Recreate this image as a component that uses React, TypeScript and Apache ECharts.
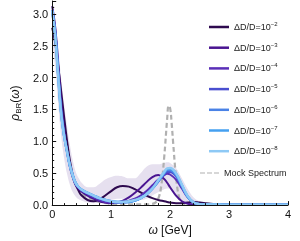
import React, { useEffect, useRef } from "react";
import * as echarts from "echarts";

const xs = [0, 0.05, 0.1, 0.15, 0.2, 0.25, 0.3, 0.35, 0.4, 0.45, 0.5, 0.6, 0.7, 0.8, 0.9, 1.0, 1.1, 1.2, 1.3, 1.4, 1.5, 1.6, 1.7, 1.8, 1.9, 1.95, 2.0, 2.1, 2.2, 2.3, 2.4, 2.5, 2.6, 2.8, 3.0, 3.5, 4.0];

const rho2 = [2.78, 2.55, 2.2, 1.8, 1.4, 1.02, 0.7, 0.47, 0.32, 0.22, 0.15, 0.08, 0.06, 0.09, 0.15, 0.22, 0.28, 0.3, 0.29, 0.25, 0.2, 0.15, 0.11, 0.08, 0.06, 0.05, 0.04, 0.03, 0.03, 0.04, 0.05, 0.04, 0.03, 0.015, 0.01, 0.006, 0.005];
const rho3 = [3.12, 2.8, 2.25, 1.65, 1.2, 0.86, 0.6, 0.43, 0.31, 0.25, 0.21, 0.15, 0.1, 0.06, 0.04, 0.03, 0.04, 0.07, 0.12, 0.19, 0.27, 0.36, 0.44, 0.47, 0.41, 0.35, 0.28, 0.15, 0.06, 0.02, 0.01, 0.01, 0.008, 0.006, 0.005, 0.005, 0.005];
const rho4 = [3.05, 2.75, 2.15, 1.55, 1.15, 0.85, 0.62, 0.45, 0.33, 0.27, 0.23, 0.17, 0.12, 0.08, 0.05, 0.04, 0.04, 0.05, 0.07, 0.1, 0.15, 0.22, 0.31, 0.4, 0.47, 0.49, 0.48, 0.4, 0.26, 0.12, 0.04, 0.015, 0.01, 0.008, 0.006, 0.005, 0.005];
const rho5 = [3.05, 2.72, 2.1, 1.5, 1.12, 0.85, 0.62, 0.46, 0.34, 0.28, 0.24, 0.18, 0.14, 0.1, 0.07, 0.05, 0.04, 0.04, 0.05, 0.07, 0.11, 0.17, 0.26, 0.37, 0.48, 0.52, 0.52, 0.45, 0.29, 0.13, 0.04, 0.015, 0.01, 0.008, 0.006, 0.005, 0.005];
const rho6 = [3.05, 2.7, 2.08, 1.48, 1.1, 0.85, 0.62, 0.46, 0.34, 0.28, 0.24, 0.19, 0.15, 0.11, 0.08, 0.06, 0.05, 0.05, 0.05, 0.07, 0.11, 0.17, 0.26, 0.38, 0.5, 0.55, 0.55, 0.47, 0.3, 0.13, 0.04, 0.015, 0.01, 0.008, 0.006, 0.005, 0.005];
const rho7 = [3.05, 2.68, 2.06, 1.46, 1.1, 0.85, 0.62, 0.46, 0.34, 0.28, 0.24, 0.19, 0.15, 0.11, 0.08, 0.06, 0.05, 0.05, 0.05, 0.07, 0.11, 0.17, 0.26, 0.38, 0.51, 0.565, 0.57, 0.49, 0.31, 0.13, 0.04, 0.015, 0.01, 0.008, 0.006, 0.005, 0.005];
const rho8 = [3.05, 2.65, 2.05, 1.45, 1.1, 0.85, 0.62, 0.46, 0.34, 0.28, 0.24, 0.19, 0.15, 0.11, 0.08, 0.06, 0.05, 0.05, 0.06, 0.08, 0.11, 0.17, 0.26, 0.39, 0.52, 0.575, 0.58, 0.5, 0.32, 0.14, 0.04, 0.015, 0.01, 0.008, 0.006, 0.005, 0.005];

const bandLow = [2.55, 2.2, 1.6, 1.1, 0.75, 0.5, 0.32, 0.2, 0.13, 0.09, 0.07, 0.04, 0.03, 0.04, 0.06, 0.08, 0.1, 0.1, 0.09, 0.08, 0.08, 0.1, 0.15, 0.2, 0.25, 0.26, 0.25, 0.15, 0.06, 0.02, 0, 0, 0, 0, 0, 0, 0];
const bandHigh = [3.15, 2.9, 2.5, 2.0, 1.6, 1.25, 0.95, 0.7, 0.52, 0.42, 0.35, 0.28, 0.28, 0.33, 0.4, 0.44, 0.46, 0.45, 0.42, 0.42, 0.5, 0.6, 0.64, 0.64, 0.66, 0.67, 0.66, 0.58, 0.42, 0.25, 0.12, 0.06, 0.04, 0.02, 0.015, 0.01, 0.01];

const mockX = [0, 0.05, 0.1, 0.15, 0.2, 0.25, 0.3, 0.35, 0.4, 0.5, 0.6, 0.8, 1.0, 1.3, 1.6, 1.7, 1.75, 1.8, 1.85, 1.9, 1.95, 1.975, 2.0, 2.025, 2.05, 2.1, 2.15, 2.2, 2.25, 2.3, 2.5, 3.0, 4.0];
const mockY = [3.0, 2.68, 2.06, 1.46, 1.1, 0.85, 0.62, 0.46, 0.34, 0.2, 0.12, 0.05, 0.025, 0.012, 0.012, 0.02, 0.04, 0.1, 0.3, 0.75, 1.35, 1.56, 1.52, 1.3, 1.0, 0.45, 0.13, 0.035, 0.012, 0.008, 0.005, 0.005, 0.005];

const exponents = ["−2", "−3", "−4", "−5", "−6", "−7", "−8"];
const seriesNames = exponents.map((e) => "ΔD/D=10" + e);
const seriesValues = [rho2, rho3, rho4, rho5, rho6, rho7, rho8];
const colors = ["#2e0a4f", "#4a1591", "#5a2fb8", "#4a4fd0", "#4a82e6", "#45a0f0", "#8ec9f5"];
const widths = [2, 2, 2, 2, 2.5, 2.5, 2.5];
const mockName = "Mock Spectrum";

const FONT = "'Liberation Sans', Arial, sans-serif";

export default function App() {
  const ref = useRef<HTMLDivElement>(null);
  useEffect(() => {
    if (!ref.current) return;
    const chart = echarts.init(ref.current, undefined, { renderer: "svg" });
    const pairs = (x: number[], y: number[]) => x.map((v, i) => [v, y[i]]);
    const series: any[] = [
      {
        name: "bandHigh",
        type: "line",
        data: pairs(xs, bandHigh),
        symbol: "none",
        smooth: 0.4,
        lineStyle: { opacity: 0 },
        areaStyle: { color: "#e6e0ef", opacity: 1 },
        silent: true,
        z: 1,
      },
      {
        name: "bandLow",
        type: "line",
        data: pairs(xs, bandLow),
        symbol: "none",
        smooth: 0.4,
        lineStyle: { opacity: 0 },
        areaStyle: { color: "#ffffff", opacity: 1 },
        silent: true,
        z: 1,
      },
      {
        name: mockName,
        type: "line",
        data: pairs(mockX, mockY),
        symbol: "none",
        smooth: 0.4,
        lineStyle: { color: "#b0b0b0", width: 2.2, type: [5, 3] },
        itemStyle: { color: "#b0b0b0" },
        z: 2,
      },
      ...seriesNames.map((n, k) => ({
        name: n,
        type: "line",
        data: pairs(xs, seriesValues[k]),
        symbol: "none",
        smooth: 0.4,
        lineStyle: { color: colors[k], width: widths[k] },
        itemStyle: { color: colors[k] },
        z: 3 + k,
      })),
    ];
    chart.setOption({
      animation: false,
      textStyle: { fontFamily: FONT },
      grid: { left: 43, right: 12, top: 1, bottom: 31, containLabel: false },
      legend: [
        {
          data: seriesNames,
          orient: "vertical",
          left: 204,
          top: 16,
          itemWidth: 20,
          itemHeight: 2.5,
          itemGap: 8.7,
          icon: "rect",
          formatter: (name: string) => {
            const i = seriesNames.indexOf(name);
            return "ΔD/D=10{sup|" + exponents[i] + "}";
          },
          textStyle: {
            fontSize: 9,
            color: "#222",
            fontFamily: FONT,
            lineHeight: 12,
            rich: { sup: { fontSize: 6, lineHeight: 6, verticalAlign: "top", fontFamily: FONT, color: "#222" } },
          },
          selectedMode: false,
        },
        {
          data: [mockName],
          orient: "vertical",
          left: 195,
          top: 162,
          itemWidth: 19,
          itemHeight: 2.5,
          itemGap: 6,
          icon: "path://M0,0h5v1h-5z M7,0h5v1h-5z M14,0h5v1h-5z",
          textStyle: { fontSize: 9, color: "#222", fontFamily: FONT, lineHeight: 12 },
          selectedMode: false,
        },
      ],
      xAxis: {
        type: "value",
        min: 0,
        max: 4,
        interval: 1,
        z: 10,
        name: "{i|ω} [GeV]",
        nameLocation: "middle",
        nameGap: 17,
        nameTextStyle: {
          fontSize: 12,
          color: "#111",
          fontFamily: FONT,
          rich: { i: { fontStyle: "italic", fontSize: 12, fontFamily: FONT, color: "#111" } },
        },
        axisLine: { lineStyle: { color: "#111", width: 1 } },
        axisTick: { inside: true, length: 4, lineStyle: { color: "#111" } },
        minorTick: { show: true, splitNumber: 5, length: 2, lineStyle: { color: "#111" } },
        axisLabel: { fontSize: 11, color: "#111", margin: 3, fontFamily: FONT },
        splitLine: { show: false },
      },
      yAxis: {
        type: "value",
        min: 0,
        max: 3.2,
        interval: 0.5,
        z: 10,
        name: "{i|ρ}{sub|BR}({i|ω})",
        nameLocation: "middle",
        nameGap: 25,
        nameTextStyle: {
          fontSize: 12,
          lineHeight: 14,
          color: "#111",
          fontFamily: FONT,
          rich: {
            i: { fontStyle: "italic", fontSize: 12, lineHeight: 14, fontFamily: FONT, color: "#111" },
            sub: { fontSize: 8, lineHeight: 8, verticalAlign: "bottom", fontFamily: FONT, color: "#111" },
          },
        },
        axisLine: { show: true, lineStyle: { color: "#111", width: 1 } },
        axisTick: { show: true, inside: true, length: 4, lineStyle: { color: "#111" } },
        minorTick: { show: true, splitNumber: 5, length: 2, lineStyle: { color: "#111" } },
        axisLabel: {
          fontSize: 11,
          color: "#111",
          margin: 4,
          fontFamily: FONT,
          showMaxLabel: false,
          formatter: (v: number) => v.toFixed(1),
        },
        splitLine: { show: false },
      },
      series,
    });
    return () => chart.dispose();
  }, []);
  return <div ref={ref} style={{ position: "fixed", left: 0, top: 0, width: 300, height: 241 }} />;
}
